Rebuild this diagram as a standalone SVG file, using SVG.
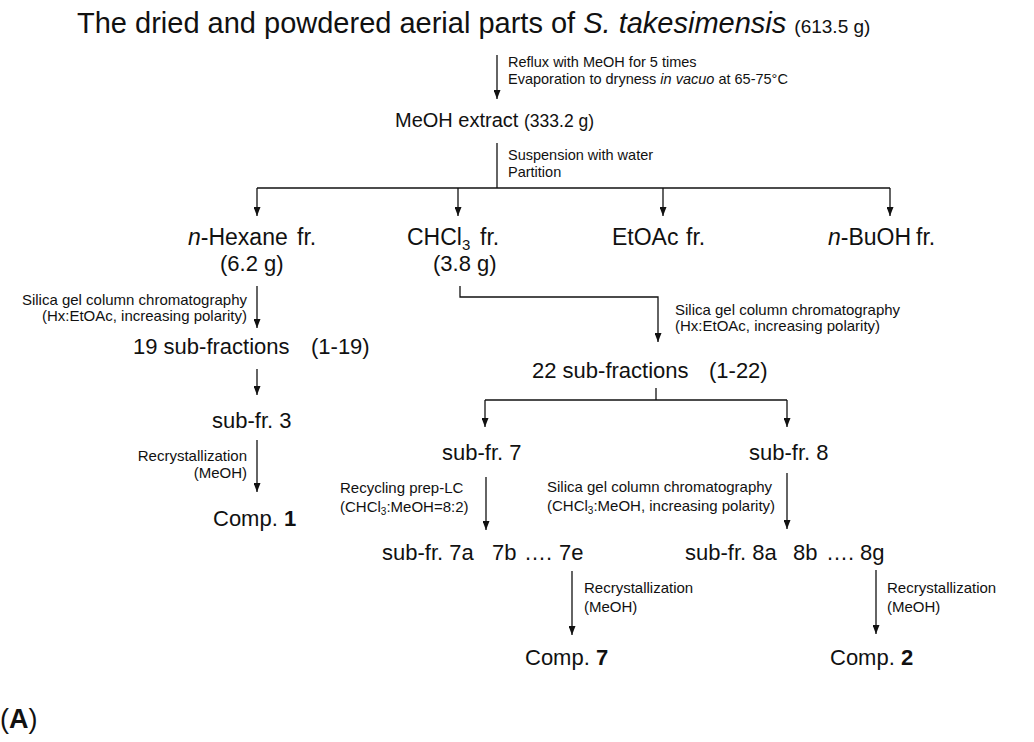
<svg xmlns="http://www.w3.org/2000/svg" width="1034" height="742" viewBox="0 0 1034 742">
<defs>
<marker id="ah" viewBox="0 0 10 10" refX="10" refY="5" markerWidth="9" markerHeight="7" markerUnits="userSpaceOnUse" orient="auto" preserveAspectRatio="none">
<path d="M0,0 L10,5 L0,10 z" fill="#111"/>
</marker>
<style>
text{font-family:"Liberation Sans",Arial,sans-serif;fill:#111}
.t{font-size:29px}
.m{font-size:22px}
.f{font-size:23px}
.s{font-size:14.5px}
.s2{font-size:15px}
.w{font-size:19px}
.ln{fill:none;stroke:#111;stroke-width:1.3}
.ar{fill:none;stroke:#111;stroke-width:1.3;marker-end:url(#ah)}
.b{font-weight:bold}
.i{font-style:italic}
</style>
</defs>
<rect width="1034" height="742" fill="#fff"/>
<g id="title"><text class="t" x="77" y="33" xml:space="preserve">The dried and powdered aerial parts of <tspan class="i">S. takesimensis</tspan> <tspan class="w">(613.5 g)</tspan></text></g>
<g id="step-reflux"><text class="s" x="508" y="67">Reflux with MeOH for 5 times</text><text class="s" x="508" y="84">Evaporation to dryness <tspan class="i">in vacuo</tspan> at 65-75°C</text></g>
<g id="meoh-extract"><text x="395" y="127" font-size="20">MeOH extract <tspan font-size="17.5" x="524">(333.2 g)</tspan></text></g>
<g id="step-partition"><text class="s" x="508" y="160">Suspension with water</text><text class="s" x="508" y="177">Partition</text></g>
<g id="hexane"><text class="f" x="188" y="245"><tspan class="i">n</tspan>-Hexane<tspan x="297">fr.</tspan></text><text class="m" x="220" y="271">(6.2 g)</text></g>
<g id="chcl3"><text class="f" x="407" y="245">CHCl<tspan font-size="15" dy="5">3</tspan><tspan dy="-5" x="480">fr.</tspan></text><text class="m" x="433" y="271">(3.8 g)</text></g>
<g id="etoac"><text class="f" x="612" y="245">EtOAc<tspan x="686">fr.</tspan></text></g>
<g id="buoh"><text class="f" x="828" y="245"><tspan class="i">n</tspan>-BuOH<tspan x="916">fr.</tspan></text></g>
<g id="step-silica-left"><text class="s2" x="247" y="305" text-anchor="end">Silica gel column chromatography</text><text class="s2" x="247" y="321" text-anchor="end">(Hx:EtOAc, increasing polarity)</text></g>
<g id="step-silica-right"><text class="s2" x="675" y="315">Silica gel column chromatography</text><text class="s2" x="675" y="331">(Hx:EtOAc, increasing polarity)</text></g>
<g id="sub19"><text class="m" x="133" y="354">19 sub-fractions<tspan x="311">(1-19)</tspan></text></g>
<g id="sub22"><text class="m" x="532" y="378">22 sub-fractions<tspan x="709">(1-22)</tspan></text></g>
<g id="subfr3"><text class="m" x="212" y="428">sub-fr. 3</text></g>
<g id="subfr7"><text class="m" x="442" y="460">sub-fr. 7</text></g>
<g id="subfr8"><text class="m" x="749" y="460">sub-fr. 8</text></g>
<g id="step-recryst-1"><text class="s2" x="247" y="461" text-anchor="end">Recrystallization</text><text class="s2" x="247" y="478" text-anchor="end">(MeOH)</text></g>
<g id="comp1"><text class="m" x="213" y="526">Comp. <tspan class="b">1</tspan></text></g>
<g id="step-recycling"><text class="s2" x="340" y="493">Recycling prep-LC</text><text class="s2" x="340" y="512">(CHCl<tspan font-size="10" dy="3">3</tspan><tspan dy="-3">:MeOH=8:2)</tspan></text></g>
<g id="step-silica-8"><text class="s2" x="547" y="492">Silica gel column chromatography</text><text class="s2" x="547" y="511">(CHCl<tspan font-size="10" dy="3">3</tspan><tspan dy="-3">:MeOH, increasing polarity)</tspan></text></g>
<g id="subfr7x"><text class="m" x="382" y="560">sub-fr. 7a<tspan x="492">7b</tspan><tspan x="524">….</tspan><tspan x="559">7e</tspan></text></g>
<g id="subfr8x"><text class="m" x="685" y="560">sub-fr. 8a<tspan x="793">8b</tspan><tspan x="826">….</tspan><tspan x="860">8g</tspan></text></g>
<g id="step-recryst-7"><text class="s2" x="584" y="593">Recrystallization</text><text class="s2" x="584" y="612">(MeOH)</text></g>
<g id="step-recryst-2"><text class="s2" x="887" y="593">Recrystallization</text><text class="s2" x="887" y="612">(MeOH)</text></g>
<g id="comp7"><text class="m" x="525" y="665">Comp. <tspan class="b">7</tspan></text></g>
<g id="comp2"><text class="m" x="830" y="665">Comp. <tspan class="b">2</tspan></text></g>
<g id="panel-label"><text x="0" y="728" font-size="27">(<tspan class="b">A</tspan>)</text></g>
<g id="connectors">
<line class="ar" x1="497" y1="55" x2="497" y2="99"/>
<polyline class="ln" points="497,143 497,188"/>
<polyline class="ln" points="257,188 890,188"/>
<line class="ar" x1="257" y1="188" x2="257" y2="216"/>
<line class="ar" x1="458" y1="188" x2="458" y2="216"/>
<line class="ar" x1="663" y1="188" x2="663" y2="216"/>
<line class="ar" x1="890" y1="188" x2="890" y2="216"/>
<path class="ar" d="M460,286 V297 H658 V342"/>
<line class="ar" x1="257" y1="286" x2="257" y2="328"/>
<line class="ar" x1="257" y1="369" x2="257" y2="395"/>
<polyline class="ln" points="656,388 656,400"/>
<polyline class="ln" points="485,400 787,400"/>
<line class="ar" x1="485" y1="400" x2="485" y2="427"/>
<line class="ar" x1="787" y1="400" x2="787" y2="427"/>
<line class="ar" x1="257" y1="440" x2="257" y2="492"/>
<line class="ar" x1="486" y1="477" x2="486" y2="530"/>
<line class="ar" x1="787" y1="473" x2="787" y2="529"/>
<line class="ar" x1="572" y1="571" x2="572" y2="635"/>
<line class="ar" x1="876" y1="570" x2="876" y2="634"/>
</g>
</svg>
